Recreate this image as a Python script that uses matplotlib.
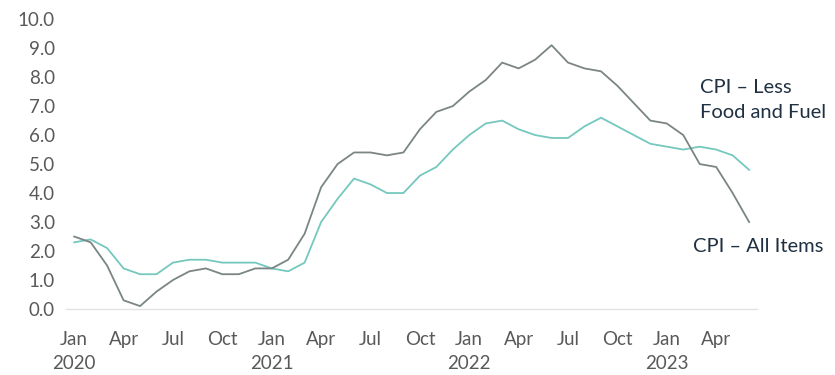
import matplotlib
matplotlib.use("Agg")
import matplotlib.pyplot as plt

plt.rcParams['font.family'] = ['Lato', 'DejaVu Sans']

months = ["Jan", "Feb", "Mar", "Apr", "May", "Jun", "Jul", "Aug", "Sep", "Oct", "Nov", "Dec"]
years = ["2020", "2021", "2022", "2023"]

cpi_all_items = [2.5, 2.3, 1.5, 0.3, 0.1, 0.6, 1.0, 1.3, 1.4, 1.2, 1.2, 1.4,
                 1.4, 1.7, 2.6, 4.2, 5.0, 5.4, 5.4, 5.3, 5.4, 6.2, 6.8, 7.0,
                 7.5, 7.9, 8.5, 8.3, 8.6, 9.1, 8.5, 8.3, 8.2, 7.7, 7.1, 6.5,
                 6.4, 6.0, 5.0, 4.9, 4.0, 3.0]
cpi_core = [2.3, 2.4, 2.1, 1.4, 1.2, 1.2, 1.6, 1.7, 1.7, 1.6, 1.6, 1.6,
            1.4, 1.3, 1.6, 3.0, 3.8, 4.5, 4.3, 4.0, 4.0, 4.6, 4.9, 5.5,
            6.0, 6.4, 6.5, 6.2, 6.0, 5.9, 5.9, 6.3, 6.6, 6.3, 6.0, 5.7,
            5.6, 5.5, 5.6, 5.5, 5.3, 4.8]

n = len(cpi_all_items)
x = list(range(n))

fig = plt.figure(figsize=(8.35, 3.75), dpi=100)
ax = fig.add_axes([0.079, 0.176, 0.828, 0.773])

ax.plot(x, cpi_core, color='#74c8be', lw=1.3)
ax.plot(x, cpi_all_items, color='#7a8584', lw=1.3)

ax.set_xlim(-0.5, n - 0.5)
ax.set_ylim(0, 10)
ax.set_yticks([i for i in range(11)])
ax.set_yticklabels([f"{i:.1f}" for i in range(11)])

tick_pos = list(range(0, n, 3))
ax.set_xticks(tick_pos)
ax.set_xticklabels([months[p % 12] for p in tick_pos])

for i, yr in enumerate(years):
    ax.text(i * 12, -0.16, yr, transform=ax.get_xaxis_transform(),
            ha='center', va='top', fontsize=13.5, color='#595959')

for s in ['top', 'right', 'left']:
    ax.spines[s].set_visible(False)
ax.spines['bottom'].set_color('#e3e3e3')
ax.spines['bottom'].set_linewidth(1.0)
ax.tick_params(axis='both', length=0, labelsize=13.5, labelcolor='#595959')
ax.tick_params(axis='x', pad=16)
ax.tick_params(axis='y', pad=8)

ax.text(700, 375 - 100, "CPI – Less\nFood and Fuel", transform=None,
        fontsize=14.5, color='#1f3042', ha='left', va='center', linespacing=1.55)
ax.text(693, 375 - 246, "CPI – All Items", transform=None,
        fontsize=14.5, color='#1f3042', ha='left', va='center')

fig.savefig("out.png", dpi=100)
